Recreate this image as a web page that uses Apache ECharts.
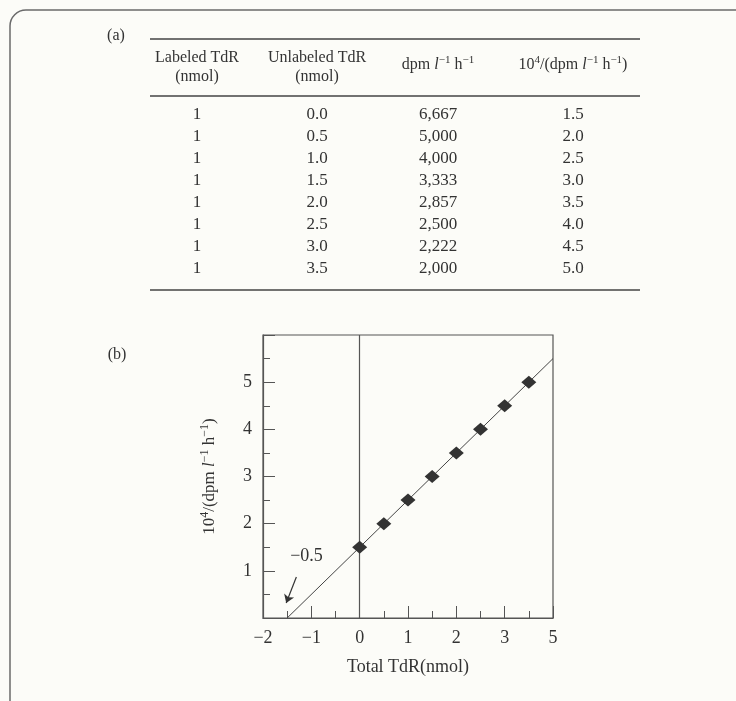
<!DOCTYPE html>
<html>
<head>
<meta charset="utf-8">
<script src="https://cdn.jsdelivr.net/npm/echarts@6/dist/echarts.min.js"></script>
<style>
  html, body { margin: 0; padding: 0; background: #fcfcf8; }
  #main { width: 736px; height: 701px; }
</style>
</head>
<body>
<div id="main"></div>
<script>
// table (a) values
var labeledTdR = [1, 1, 1, 1, 1, 1, 1, 1];
var unlabeledTdR = [0.0, 0.5, 1.0, 1.5, 2.0, 2.5, 3.0, 3.5];
var dpmRate = [6667, 5000, 4000, 3333, 2857, 2500, 2222, 2000];
var reciprocal = [1.5, 2.0, 2.5, 3.0, 3.5, 4.0, 4.5, 5.0];

// fitted line of plot (b)
var fitLineX = [-1.5, 4];
var fitLineY = [0, 5.5];

// tick labels as printed (the last one says 5)
var xTickValues = [-2, -1, 0, 1, 2, 3, 4];
var xTickLabels = ['\u22122', '\u22121', '0', '1', '2', '3', '5'];
var yTickValues = [0, 1, 2, 3, 4, 5, 6];
var yTickLabels = ['', '1', '2', '3', '4', '5', ''];

// the -0.5 note and its arrow
var noteText = '\u22120.5';
var noteAt = [-1.1, 1.3];
var arrowX = [-1.31, -1.52];
var arrowY = [0.87, 0.32];

var serif = 'Liberation Serif';
var ink = '#333';

var myChart = echarts.init(document.getElementById('main'));

// rich styles for superscripts and italic l (superscript raised with bottom padding)
function richFor(size) {
    var sub = Math.round(size * 0.7);
    return {
        n: { fontFamily: serif, fontSize: size, color: ink, fill: ink },
        i: { fontFamily: serif, fontSize: size, fontStyle: 'italic', color: ink, fill: ink },
        s: { fontFamily: serif, fontSize: sub, color: ink, fill: ink, padding: [0, 0, Math.round(size * 0.6), 0] }
    };
}
var dpmHead = '{n|dpm }{i|l}{s|\u22121}{n| h}{s|\u22121}';
var recipHead = '{n|10}{s|4}{n|/(dpm }{i|l}{s|\u22121}{n| h}{s|\u22121}{n|)}';

// build table (a) as graphic text
var colX = [197, 317, 438, 573];
var graphics = [];
graphics.push({
    type: 'rect', silent: true,
    shape: { x: 10, y: 10, width: 900, height: 900, r: 16 },
    style: { fill: 'none', stroke: '#6a6a6a', lineWidth: 1.5 }
});
graphics.push({ type: 'text', x: 116, y: 36, style: { text: '(a)', font: '16px ' + serif, fill: ink, align: 'center', verticalAlign: 'middle' } });
graphics.push({ type: 'text', x: 117, y: 355, style: { text: '(b)', font: '16px ' + serif, fill: ink, align: 'center', verticalAlign: 'middle' } });
[39, 96, 290].forEach(function (y) {
    graphics.push({ type: 'line', shape: { x1: 150, y1: y, x2: 640, y2: y }, style: { stroke: '#444', lineWidth: 1.6 } });
});
graphics.push({ type: 'text', x: colX[0], y: 67, style: { text: 'Labeled TdR\n(nmol)', font: '16px ' + serif, lineHeight: 19, fill: ink, align: 'center', verticalAlign: 'middle' } });
graphics.push({ type: 'text', x: colX[1], y: 67, style: { text: 'Unlabeled TdR\n(nmol)', font: '16px ' + serif, lineHeight: 19, fill: ink, align: 'center', verticalAlign: 'middle' } });
graphics.push({ type: 'text', x: colX[2], y: 65, style: { text: dpmHead, rich: richFor(16), fill: ink, align: 'center', verticalAlign: 'middle' } });
graphics.push({ type: 'text', x: colX[3], y: 65, style: { text: recipHead, rich: richFor(16), fill: ink, align: 'center', verticalAlign: 'middle' } });
for (var r = 0; r < labeledTdR.length; r++) {
    var cells = [
        String(labeledTdR[r]),
        unlabeledTdR[r].toFixed(1),
        dpmRate[r].toLocaleString('en-US'),
        reciprocal[r].toFixed(1)
    ];
    for (var c = 0; c < 4; c++) {
        graphics.push({
            type: 'text', x: colX[c], y: 115 + r * 22,
            style: { text: cells[c], font: '17px ' + serif, fill: ink, align: 'center', verticalAlign: 'middle' }
        });
    }
}

var points = unlabeledTdR.map(function (x, k) { return [x, reciprocal[k]]; });
var fitPoints = fitLineX.map(function (x, k) { return [x, fitLineY[k]]; });

option = {
    backgroundColor: '#fcfcf8',
    animation: false,
    graphic: graphics,
    grid: {
        left: 263, right: 183, top: 335, bottom: 83,
        show: true, borderColor: '#555', borderWidth: 1.2, backgroundColor: 'transparent'
    },
    xAxis: {
        type: 'value', min: -2, max: 4, interval: 1,
        name: 'Total TdR(nmol)', nameLocation: 'middle', nameGap: 40,
        nameTextStyle: { fontFamily: serif, fontSize: 18, color: ink },
        axisLine: { onZero: false, lineStyle: { color: '#555', width: 1.2 } },
        axisTick: { inside: true, length: 12, lineStyle: { color: '#555' } },
        minorTick: { show: true, splitNumber: 2, length: 7, lineStyle: { color: '#555' } },
        splitLine: { show: false },
        axisLabel: {
            margin: 11, fontFamily: serif, fontSize: 18, color: ink,
            formatter: function (v) { return xTickLabels[xTickValues.indexOf(v)]; }
        }
    },
    yAxis: {
        type: 'value', min: 0, max: 6, interval: 1,
        name: recipHead,
        nameLocation: 'middle', nameGap: 42, nameRotate: 90,
        nameTextStyle: { rich: richFor(17) },
        axisLine: { onZero: false, lineStyle: { color: '#555', width: 1.2 } },
        axisTick: { inside: true, length: 12, lineStyle: { color: '#555' } },
        minorTick: { show: true, splitNumber: 2, length: 7, lineStyle: { color: '#555' } },
        splitLine: { show: false },
        axisLabel: {
            margin: 11, fontFamily: serif, fontSize: 18, color: ink,
            formatter: function (v) { return yTickLabels[yTickValues.indexOf(v)]; }
        }
    },
    series: [
        {
            type: 'line',
            data: fitPoints,
            symbol: 'none',
            lineStyle: { color: '#444', width: 1 },
            silent: true,
            markLine: {
                silent: true,
                symbol: ['none', 'none'],
                label: { show: false },
                lineStyle: { color: '#555', width: 1.2, type: 'solid' },
                data: [{ xAxis: 0 }]
            }
        },
        {
            type: 'scatter',
            data: points,
            symbol: 'diamond',
            symbolSize: [15, 13],
            itemStyle: { color: '#333', opacity: 1 },
            z: 5
        },
        {
            type: 'scatter',
            data: [noteAt],
            symbolSize: 0,
            itemStyle: { opacity: 1 },
            label: {
                show: true, position: 'inside',
                formatter: noteText,
                fontFamily: serif, fontSize: 18, color: ink
            },
            silent: true,
            markLine: {
                silent: true,
                symbol: ['none', 'arrow'],
                symbolSize: 8,
                label: { show: false },
                lineStyle: { color: '#333', width: 1.2, type: 'solid' },
                data: [[{ coord: [arrowX[0], arrowY[0]] }, { coord: [arrowX[1], arrowY[1]] }]]
            }
        }
    ]
};
myChart.setOption(option);
</script>
</body>
</html>
